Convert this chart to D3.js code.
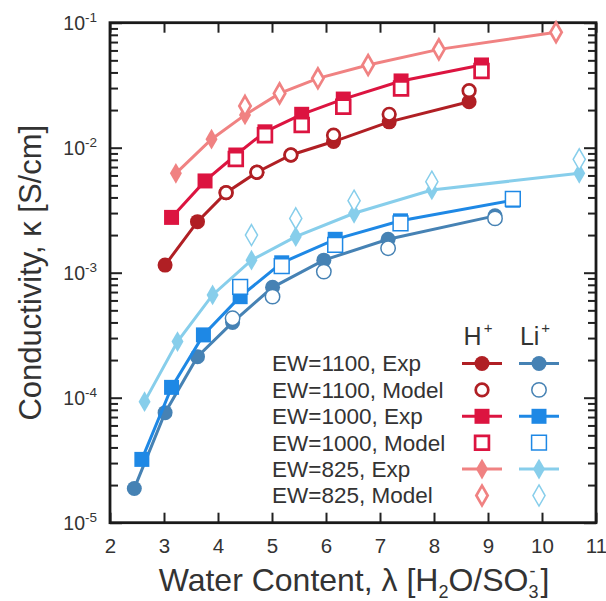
<!DOCTYPE html>
<html><head><meta charset="utf-8">
<script src="https://cdn.jsdelivr.net/npm/d3@7"></script>
<style>
body{margin:0;background:#fff}
text{font-family:"Liberation Sans",Arial,Helvetica,sans-serif;fill:#333}
</style>
</head><body>
<svg id="chart" width="606" height="601"></svg>
<script>
// ---------- data ----------
const h1100ExpLambda   = [3.02, 3.62, 4.15, 4.72, 5.35, 6.14, 7.17, 8.65];
const h1100Exp         = [1.15e-3, 2.56e-3, 4.37e-3, 6.36e-3, 8.74e-3, 1.12e-2, 1.61e-2, 2.33e-2];
const h1100ModelLambda = [4.15, 4.72, 5.35, 6.14, 7.17, 8.65];
const h1100Model       = [4.37e-3, 6.36e-3, 8.74e-3, 1.26e-2, 1.85e-2, 2.86e-2];

const h1000ExpLambda   = [3.14, 3.76, 4.33, 4.87, 5.55, 6.32, 7.39, 8.88];
const h1000Exp         = [2.77e-3, 5.42e-3, 8.74e-3, 1.34e-2, 1.85e-2, 2.45e-2, 3.42e-2, 4.59e-2];
const h1000ModelLambda = [4.33, 4.87, 5.55, 6.32, 7.39, 8.88];
const h1000Model       = [8.12e-3, 1.26e-2, 1.52e-2, 2.13e-2, 2.98e-2, 4.11e-2];

const h825ExpLambda    = [3.22, 3.88, 4.50, 5.14, 5.85, 6.78, 8.09, 10.26];
const h825Exp          = [6.24e-3, 1.17e-2, 1.83e-2, 2.72e-2, 3.59e-2, 4.59e-2, 6.12e-2, 8.38e-2];
const h825ModelLambda  = [4.50, 5.14, 5.85, 6.78, 8.09, 10.26];
const h825Model        = [2.16e-2, 2.72e-2, 3.59e-2, 4.59e-2, 6.12e-2, 8.38e-2];

const li1100ExpLambda   = [2.45, 3.02, 3.62, 4.27, 5.01, 5.96, 7.15, 9.13];
const li1100Exp         = [1.88e-5, 7.59e-5, 2.13e-4, 4.00e-4, 7.64e-4, 1.26e-3, 1.85e-3, 2.85e-3];
const li1100ModelLambda = [4.27, 5.01, 5.96, 7.15, 9.13];
const li1100Model       = [4.32e-4, 6.43e-4, 1.02e-3, 1.57e-3, 2.72e-3];

const li1000ExpLambda   = [2.59, 3.14, 3.73, 4.41, 5.18, 6.17, 7.38, 9.46];
const li1000Exp         = [3.21e-5, 1.21e-4, 3.18e-4, 6.43e-4, 1.20e-3, 1.85e-3, 2.60e-3, 3.80e-3];
const li1000ModelLambda = [4.41, 5.18, 6.17, 7.38, 9.46];
const li1000Model       = [7.70e-4, 1.13e-3, 1.67e-3, 2.48e-3, 3.89e-3];

const li825ExpLambda    = [2.64, 3.25, 3.90, 4.62, 5.44, 6.52, 7.96, 10.69];
const li825Exp          = [9.30e-5, 2.81e-4, 6.64e-4, 1.26e-3, 1.94e-3, 2.99e-3, 4.59e-3, 6.24e-3];
const li825ModelLambda  = [4.62, 5.44, 6.52, 7.96, 10.69];
const li825Model        = [2.00e-3, 2.72e-3, 3.77e-3, 5.35e-3, 8.07e-3];

const xTickValues = [2, 3, 4, 5, 6, 7, 8, 9, 10, 11];
const yMajorTicks = [1e-5, 1e-4, 1e-3, 1e-2, 1e-1];
const yTickExponents = ["-5", "-4", "-3", "-2", "-1"];
const legendLabels = ["EW=1100, Exp", "EW=1100, Model", "EW=1000, Exp", "EW=1000, Model", "EW=825, Exp", "EW=825, Model"];
const legendHeaders = ["H", "Li"];

// ---------- styling / structure ----------
const colors = {
  h1100: "#b01f24", h1000: "#dc1440", h825: "#f08282",
  li1100: "#4682b4", li1000: "#1e88e5", li825: "#87ceeb"
};
const series = [
  {key:"li1100", shape:"circle",  ion:"li", el:li1100ExpLambda, ev:li1100Exp, ml:li1100ModelLambda, mv:li1100Model},
  {key:"li1000", shape:"square",  ion:"li", el:li1000ExpLambda, ev:li1000Exp, ml:li1000ModelLambda, mv:li1000Model},
  {key:"li825",  shape:"diamond", ion:"li", el:li825ExpLambda,  ev:li825Exp,  ml:li825ModelLambda,  mv:li825Model},
  {key:"h1100",  shape:"circle",  ion:"h",  el:h1100ExpLambda,  ev:h1100Exp,  ml:h1100ModelLambda,  mv:h1100Model},
  {key:"h1000",  shape:"square",  ion:"h",  el:h1000ExpLambda,  ev:h1000Exp,  ml:h1000ModelLambda,  mv:h1000Model},
  {key:"h825",   shape:"diamond", ion:"h",  el:h825ExpLambda,   ev:h825Exp,   ml:h825ModelLambda,   mv:h825Model}
];

const L = 110, R = 596, T = 22.7, B = 522.7;
const svg = d3.select("#chart");
const x = d3.scaleLinear().domain([2, 11]).range([L, R]);
const y = d3.scaleLog().domain([1e-5, 1e-1]).range([B, T]);

const yMinor = [];
for (let e = -5; e < -1; e++) for (let m = 2; m <= 9; m++) yMinor.push(m * Math.pow(10, e));

function styleAxis(g) {
  g.select(".domain").remove();
  g.selectAll(".tick line").attr("stroke", "#222").attr("stroke-width", 2);
}

// bottom axis with labels
svg.append("g").attr("transform", `translate(0,${B})`)
  .call(d3.axisBottom(x).tickValues(xTickValues).tickSizeInner(-10).tickSizeOuter(0).tickPadding(16).tickFormat(d3.format("d")))
  .call(styleAxis)
  .call(g => g.selectAll("text").attr("font-size", 20.5).attr("fill", "#333").attr("font-family", null));
// top axis
svg.append("g").attr("transform", `translate(0,${T})`)
  .call(d3.axisTop(x).tickValues(xTickValues).tickSizeInner(-10).tickSizeOuter(0).tickFormat(""))
  .call(styleAxis);
// left axis
const leftMajor = svg.append("g").attr("transform", `translate(${L},0)`)
  .call(d3.axisLeft(y).tickValues(yMajorTicks).tickSizeInner(-12).tickSizeOuter(0).tickPadding(13).tickFormat(() => ""))
  .call(styleAxis);
leftMajor.selectAll(".tick text").each(function(d, i) {
  const t = d3.select(this).attr("font-size", 19.5).attr("fill", "#333").attr("font-family", null).attr("dy", "0.36em");
  t.append("tspan").text("10");
  t.append("tspan").text(yTickExponents[i]).attr("font-size", 13.5).attr("dy", "-0.6em");
});
svg.append("g").attr("transform", `translate(${L},0)`)
  .call(d3.axisLeft(y).tickValues(yMinor).tickSizeInner(-8).tickSizeOuter(0).tickFormat(""))
  .call(styleAxis);
// right axis
svg.append("g").attr("transform", `translate(${R},0)`)
  .call(d3.axisRight(y).tickValues(yMajorTicks).tickSizeInner(-12).tickSizeOuter(0).tickFormat(""))
  .call(styleAxis);
svg.append("g").attr("transform", `translate(${R},0)`)
  .call(d3.axisRight(y).tickValues(yMinor).tickSizeInner(-8).tickSizeOuter(0).tickFormat(""))
  .call(styleAxis);

// frame
svg.append("rect").attr("x", L).attr("y", T).attr("width", R - L).attr("height", B - T)
  .attr("fill", "none").attr("stroke", "#1a1a1a").attr("stroke-width", 2.8);

// markers
function markerPath(shape, filled, ion) {
  if (shape === "circle") {
    if (filled) return d3.symbol(d3.symbolCircle, Math.PI * 7.5 * 7.5)();
    return d3.symbol(d3.symbolCircle, Math.PI * (ion === "h" ? 6.3 : 7.2) ** 2)();
  }
  if (shape === "square") {
    const s = filled ? 15 : (ion === "h" ? 13.8 : 14.8);
    return d3.symbol(d3.symbolSquare, s * s)();
  }
  const hh = filled ? 9.3 : (ion === "h" ? 8.8 : 9.4);
  return d3.symbol(d3.symbolDiamond, hh * hh * 2 * Math.tan(Math.PI / 6) * 1.25)();
}
function drawMarker(g, shape, filled, ion, color) {
  const p = g.append("path").attr("d", markerPath(shape, filled, ion));
  if (filled) p.attr("fill", color);
  else p.attr("fill", "#fff").attr("stroke", color).attr("stroke-width", ion === "h" ? 2.7 : 1.5);
  return p;
}

const line = d3.line().x(d => x(d[0])).y(d => y(d[1]));
const plot = svg.append("g");
series.forEach(s => {
  const c = colors[s.key];
  const expPts = s.el.map((l, i) => [l, s.ev[i]]);
  plot.append("path").attr("d", line(expPts)).attr("fill", "none").attr("stroke", c).attr("stroke-width", 3);
  expPts.forEach(p => {
    drawMarker(plot.append("g").attr("transform", `translate(${x(p[0])},${y(p[1])})`), s.shape, true, s.ion, c);
  });
  s.ml.forEach((l, i) => {
    drawMarker(plot.append("g").attr("transform", `translate(${x(l)},${y(s.mv[i])})`), s.shape, false, s.ion, c);
  });
});

// legend
const legend = svg.append("g");
const rowY = d3.scalePoint().domain(legendLabels).range([363.5, 495.5]);
const colX = {h: 482, li: 539};
const headerG = legend.append("g");
[["h", "H"], ["li", "Li"]].forEach(([k, label], i) => {
  const t = headerG.append("text").attr("x", colX[k] - 4).attr("y", 345).attr("text-anchor", "middle").attr("font-size", 25);
  t.append("tspan").text(legendHeaders[i]);
  t.append("tspan").text("+").attr("font-size", 15).attr("dy", -12).attr("dx", 2);
});
const legendRows = [
  {key:"1100", shape:"circle",  filled:true},
  {key:"1100", shape:"circle",  filled:false},
  {key:"1000", shape:"square",  filled:true},
  {key:"1000", shape:"square",  filled:false},
  {key:"825",  shape:"diamond", filled:true},
  {key:"825",  shape:"diamond", filled:false}
];
legendRows.forEach((r, i) => {
  const yy = rowY(legendLabels[i]);
  legend.append("text").attr("x", 272).attr("y", yy).attr("dy", "0.35em").attr("font-size", 22.5).text(legendLabels[i]);
  ["h", "li"].forEach(ion => {
    const c = colors[ion + r.key];
    if (r.filled) legend.append("line").attr("x1", colX[ion] - 20).attr("x2", colX[ion] + 20)
      .attr("y1", yy).attr("y2", yy).attr("stroke", c).attr("stroke-width", 3);
    drawMarker(legend.append("g").attr("transform", `translate(${colX[ion]},${yy})`), r.shape, r.filled, ion, c);
  });
});

// axis titles
const xt = svg.append("text").attr("x", 354).attr("y", 591).attr("text-anchor", "middle").attr("font-size", 32);
xt.append("tspan").text("Water Content, \u03bb [H");
xt.append("tspan").text("2").attr("font-size", 18).attr("dy", 7);
xt.append("tspan").text("O/SO").attr("dy", -7);
xt.append("tspan").text("3").attr("font-size", 18).attr("dy", 7);
xt.append("tspan").text("-").attr("font-size", 18).attr("dx", -9).attr("dy", -21);
xt.append("tspan").text("]").attr("dx", 5).attr("dy", 14);

svg.append("text").attr("transform", "translate(41,272.7) rotate(-90)").attr("text-anchor", "middle")
  .attr("font-size", 31).text("Conductivity, \u03ba [S/cm]");
</script>
</body></html>
